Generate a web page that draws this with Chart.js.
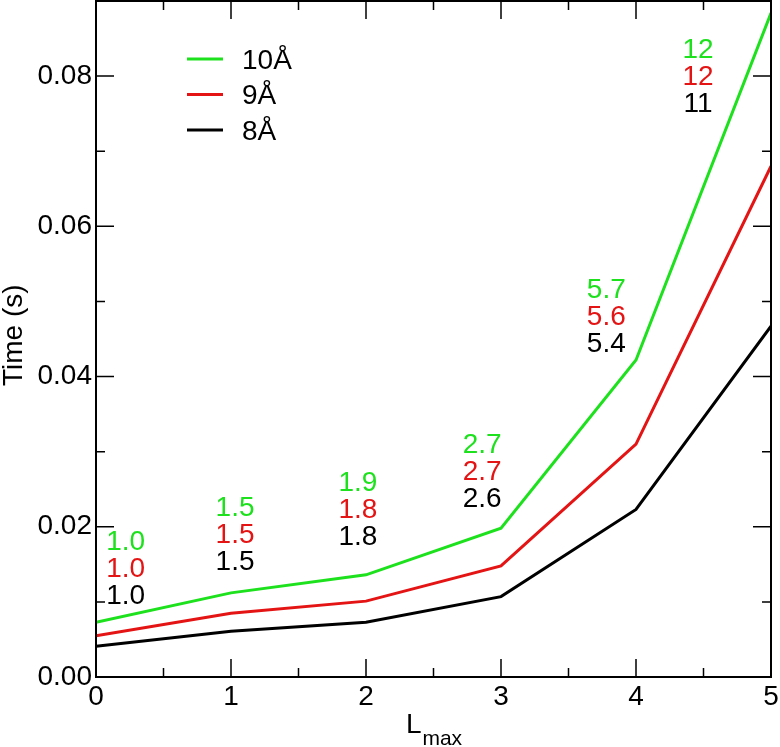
<!DOCTYPE html>
<html>
<head>
<meta charset="utf-8">
<script src="https://cdn.jsdelivr.net/npm/chart.js@4"></script>
<style>
  html, body { margin: 0; padding: 0; background: #fff; }
  #wrap { width: 780px; height: 747px; }
</style>
</head>
<body>
<div id="wrap"><canvas id="myChart" width="780" height="747"></canvas></div>
<script>
// values
var lmax = [0, 1, 2, 3, 4, 5];
var time10 = [0.0073, 0.0112, 0.0136, 0.0198, 0.0422, 0.0884];
var time9 = [0.0055, 0.0085, 0.0101, 0.0148, 0.0310, 0.0680];
var time8 = [0.0041, 0.0061, 0.0073, 0.0107, 0.0223, 0.0467];
var seriesNames = ['10Å', '9Å', '8Å'];
var yTickValues = [0, 0.02, 0.04, 0.06, 0.08];
var xTickValues = [0, 1, 2, 3, 4, 5];

// speedup labels above each L value (green, red, black)
var noteX = [0.22, 1.03, 1.94, 2.86, 3.78, 4.46];
var noteY = [0.0180, 0.0225, 0.0258, 0.0309, 0.0515, 0.0835];
var note10 = ['1.0', '1.5', '1.9', '2.7', '5.7', '12'];
var note9 = ['1.0', '1.5', '1.8', '2.7', '5.6', '12'];
var note8 = ['1.0', '1.5', '1.8', '2.6', '5.4', '11'];

var green = 'rgb(30,225,30)';
var red = 'rgb(228,20,20)';
var black = '#000';
var fontFam = '"Liberation Sans", Arial, Helvetica, sans-serif';

function toPoints(ys) {
    var pts = [];
    for (var i = 0; i < lmax.length; i++) {
        pts.push({x: lmax[i], y: ys[i]});
    }
    return pts;
}

// frame, inward ticks on all four sides, legend, notes, axis titles
var decor = {
    id: 'decor',
    afterDraw: function(chart) {
        var ctx = chart.ctx;
        var a = chart.chartArea;
        var xs = chart.scales.x, ys = chart.scales.y;
        ctx.save();
        ctx.strokeStyle = '#000';

        ctx.lineWidth = 1.5;
        ctx.beginPath();
        for (var v = 0; v <= 5.001; v += 0.5) {
            var px = xs.getPixelForValue(v);
            var len = (Math.abs(v - Math.round(v)) < 0.01) ? 18 : 9;
            ctx.moveTo(px, a.bottom); ctx.lineTo(px, a.bottom - len);
            ctx.moveTo(px, a.top); ctx.lineTo(px, a.top + len);
        }
        for (var w = 0; w <= 0.0901; w += 0.01) {
            var py = ys.getPixelForValue(w);
            var major = Math.round(w * 100) % 2 === 0;
            var l2 = major ? 18 : 9;
            ctx.moveTo(a.left, py); ctx.lineTo(a.left + l2, py);
            ctx.moveTo(a.right, py); ctx.lineTo(a.right - l2, py);
        }
        ctx.stroke();

        ctx.lineWidth = 2;
        ctx.strokeRect(a.left, a.top, a.right - a.left, a.bottom - a.top);

        // legend
        var cols = [green, red, black];
        ctx.font = '28px ' + fontFam;
        ctx.textBaseline = 'middle';
        ctx.textAlign = 'left';
        for (var i = 0; i < seriesNames.length; i++) {
            var ly = a.top + 58 + i * 35.5;
            ctx.strokeStyle = cols[i];
            ctx.lineWidth = 3;
            ctx.beginPath();
            ctx.moveTo(a.left + 91, ly); ctx.lineTo(a.left + 127, ly);
            ctx.stroke();
            ctx.fillStyle = '#000';
            ctx.fillText(seriesNames[i], a.left + 146, ly + 2);
        }

        // notes
        ctx.textAlign = 'center';
        var notes = [note10, note9, note8];
        for (var j = 0; j < noteX.length; j++) {
            var nx = xs.getPixelForValue(noteX[j]);
            var ny = ys.getPixelForValue(noteY[j]);
            for (var k = 0; k < 3; k++) {
                ctx.fillStyle = cols[k];
                ctx.fillText(notes[k][j], nx, ny + k * 27);
            }
        }

        // axis titles
        ctx.fillStyle = '#000';
        ctx.save();
        ctx.translate(14, ys.getPixelForValue(0.0455));
        ctx.rotate(-Math.PI / 2);
        ctx.textAlign = 'center';
        ctx.textBaseline = 'middle';
        ctx.fillText('Time (s)', 0, 0);
        ctx.restore();

        var cx = xs.getPixelForValue(2.5);
        ctx.textBaseline = 'alphabetic';
        ctx.textAlign = 'left';
        ctx.font = '28px ' + fontFam;
        var wL = ctx.measureText('L').width;
        ctx.font = '21px ' + fontFam;
        var wS = ctx.measureText('max').width;
        var sx = cx - (wL + wS) / 2;
        ctx.font = '28px ' + fontFam;
        ctx.fillText('L', sx, 733);
        ctx.font = '21px ' + fontFam;
        ctx.fillText('max', sx + wL + 1, 745);
        ctx.restore();
    }
};

window.onload = function() {
    var ctx = document.getElementById('myChart').getContext('2d');
    var myChart = new Chart(ctx, {
        type: 'line',
        data: {
            datasets: [
                {label: seriesNames[0], data: toPoints(time10), borderColor: green, borderWidth: 3},
                {label: seriesNames[1], data: toPoints(time9), borderColor: red, borderWidth: 3},
                {label: seriesNames[2], data: toPoints(time8), borderColor: black, borderWidth: 3}
            ]
        },
        options: {
            responsive: false,
            animation: false,
            layout: {padding: {top: 1, right: 9, left: 0, bottom: 0}},
            elements: {point: {radius: 0}, line: {tension: 0}},
            plugins: {legend: {display: false}, tooltip: {enabled: false}},
            scales: {
                x: {
                    type: 'linear', min: 0, max: 5,
                    grid: {display: false, drawTicks: false},
                    border: {display: false},
                    afterBuildTicks: function(s) { s.ticks = xTickValues.map(function(v) { return {value: v}; }); },
                    afterFit: function(s) { s.height = 70; s.paddingLeft = 0; s.paddingRight = 0; },
                    ticks: {color: '#000', padding: 3, maxRotation: 0, font: {family: fontFam, size: 28},
                        callback: function(v) { return String(v); }}
                },
                y: {
                    min: 0, max: 0.09,
                    grid: {display: false, drawTicks: false},
                    border: {display: false},
                    afterBuildTicks: function(s) { s.ticks = yTickValues.map(function(v) { return {value: v}; }); },
                    afterFit: function(s) { s.width = 96; s.paddingTop = 0; s.paddingBottom = 0; },
                    ticks: {color: '#000', padding: 4, font: {family: fontFam, size: 28},
                        callback: function(v) { return v.toFixed(2); }}
                }
            }
        },
        plugins: [decor]
    });
};
</script>
</body>
</html>
